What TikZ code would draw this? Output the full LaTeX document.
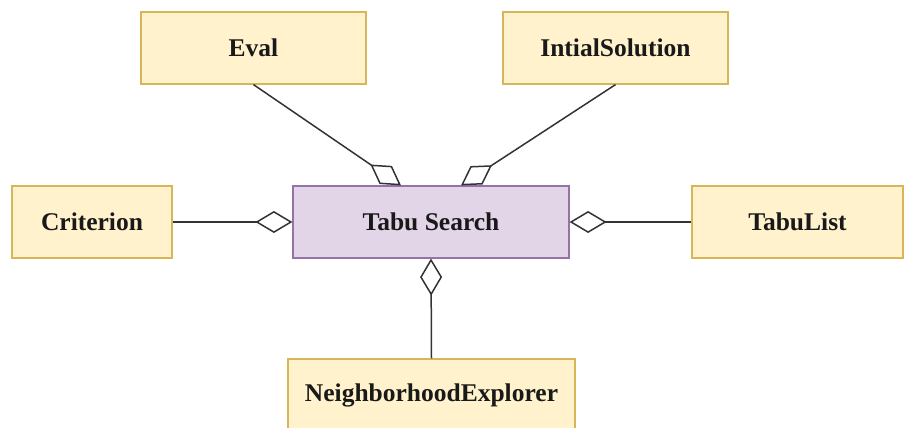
\documentclass[tikz,border=0pt]{standalone}
\usepackage{fontspec}
\setmainfont{Liberation Serif}
\usetikzlibrary{arrows.meta}
\definecolor{clsfill}{HTML}{FFF2CC}
\definecolor{clsdraw}{HTML}{D6B656}
\definecolor{mainfill}{HTML}{E1D5E7}
\definecolor{maindraw}{HTML}{9673A6}
\tikzset{
  cls/.style={draw=clsdraw, fill=clsfill, line width=0.6pt, minimum height=36pt,
    font=\fontsize{12.75}{15}\selectfont\bfseries, text=black!90, inner sep=0pt},
  mainbox/.style={cls, draw=maindraw, fill=mainfill},
  agg/.style={draw=black!80, line width=0.75pt, {Diamond[open, length=18.5pt, width=11pt]}-}
}
\begin{document}
\begin{tikzpicture}[x=0.5pt, y=-0.5pt]
\useasboundingbox (0,0) rectangle (905,428);
\node[mainbox, minimum width=138pt] (ts) at (431,222) {Tabu Search};
\node[cls, minimum width=112.5pt] (eval) at (253.5,48) {Eval};
\node[cls, minimum width=112.5pt] (init) at (615.5,48) {IntialSolution};
\node[cls, minimum width=80pt] (crit) at (92,222) {Criterion};
\node[cls, minimum width=105.5pt] (tabu) at (797.5,222) {TabuList};
\node[cls, minimum width=143.5pt] (nbr) at (431.5,395) {NeighborhoodExplorer};
\draw[agg] ([xshift=-15pt]ts.north) -- (eval.south);
\draw[agg] ([xshift=15pt]ts.north) -- (init.south);
\draw[agg] (ts.west) -- (crit.east);
\draw[agg] (ts.east) -- (tabu.west);
\draw[agg] (ts.south) -- (nbr.north);
\end{tikzpicture}
\end{document}
